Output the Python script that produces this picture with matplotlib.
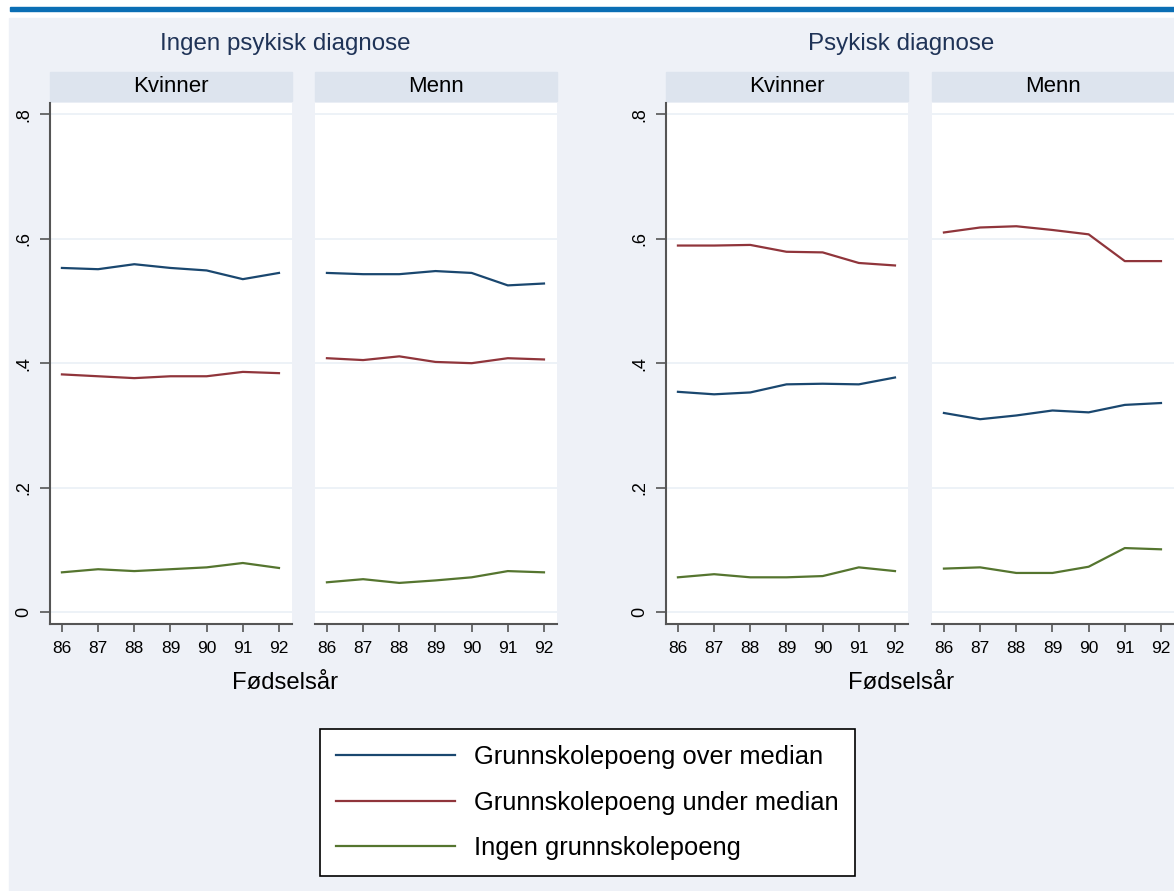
import matplotlib
matplotlib.use('Agg')
import matplotlib.pyplot as plt
from matplotlib.patches import Rectangle

plt.rcParams['font.family'] = ['Liberation Sans', 'DejaVu Sans']

years = [86, 87, 88, 89, 90, 91, 92]
groups = ["Ingen psykisk diagnose", "Psykisk diagnose"]
sexes = ["Kvinner", "Menn"]
series_names = ["Grunnskolepoeng over median", "Grunnskolepoeng under median", "Ingen grunnskolepoeng"]

# Ingen psykisk diagnose
ingen_kvinner_over = [0.553, 0.551, 0.559, 0.553, 0.549, 0.535, 0.545]
ingen_kvinner_under = [0.382, 0.379, 0.376, 0.379, 0.379, 0.386, 0.384]
ingen_kvinner_ingen = [0.064, 0.069, 0.066, 0.069, 0.072, 0.079, 0.071]
ingen_menn_over = [0.545, 0.543, 0.543, 0.548, 0.545, 0.525, 0.528]
ingen_menn_under = [0.408, 0.405, 0.411, 0.402, 0.400, 0.408, 0.406]
ingen_menn_ingen = [0.048, 0.053, 0.047, 0.051, 0.056, 0.066, 0.064]
# Psykisk diagnose
psyk_kvinner_over = [0.354, 0.350, 0.353, 0.366, 0.367, 0.366, 0.377]
psyk_kvinner_under = [0.589, 0.589, 0.590, 0.579, 0.578, 0.561, 0.557]
psyk_kvinner_ingen = [0.056, 0.061, 0.056, 0.056, 0.058, 0.072, 0.066]
psyk_menn_over = [0.320, 0.310, 0.316, 0.324, 0.321, 0.333, 0.336]
psyk_menn_under = [0.610, 0.618, 0.620, 0.614, 0.607, 0.564, 0.564]
psyk_menn_ingen = [0.070, 0.072, 0.063, 0.063, 0.073, 0.103, 0.101]

panels = [
    (ingen_kvinner_over, ingen_kvinner_under, ingen_kvinner_ingen),
    (ingen_menn_over, ingen_menn_under, ingen_menn_ingen),
    (psyk_kvinner_over, psyk_kvinner_under, psyk_kvinner_ingen),
    (psyk_menn_over, psyk_menn_under, psyk_menn_ingen),
]

colors = ['#1a476f', '#90353b', '#55752f']
bg = '#eef1f7'
strip = '#dde4ee'
W, H = 1174, 891

def box(l, t, w, h):
    return [l / W, 1 - (t + h) / H, w / W, h / H]

fig = plt.figure(figsize=(W / 100, H / 100), dpi=100, facecolor='white')
fig.add_artist(Rectangle((9 / W, 0), 1, 1 - 18 / H, transform=fig.transFigure, color=bg, zorder=-10))
fig.add_artist(Rectangle((10 / W, 1 - 11 / H), 1, 4 / H, transform=fig.transFigure, color='#0a6eb4', zorder=-10))

lefts = [50, 315, 666, 932]
lines = []
for i, (over, under, ingen) in enumerate(panels):
    ax = fig.add_axes(box(lefts[i], 103, 242, 521))
    ax.set_facecolor('white')
    ax.set_xlim(85.67, 92.36)
    ax.set_ylim(-0.019, 0.818)
    ax.set_yticks([0, 0.2, 0.4, 0.6, 0.8])
    ax.grid(axis='y', color='#eaf0f6', lw=1.2)
    ax.set_axisbelow(True)
    for s in ['top', 'right']:
        ax.spines[s].set_visible(False)
    ax.spines['bottom'].set_color('#555555')
    ax.spines['bottom'].set_linewidth(1.5)
    ax.set_xticks(years)
    ax.set_xticklabels([str(y) for y in years], fontsize=12.5)
    ax.tick_params(axis='x', length=6, width=1.2, color='#555555', pad=6)
    if i % 2 == 0:
        ax.spines['left'].set_color('#555555')
        ax.spines['left'].set_linewidth(1.5)
        ax.set_yticklabels(['0', '.2', '.4', '.6', '.8'], fontsize=13, rotation=90, va='center')
        ax.tick_params(axis='y', length=7, width=1.2, color='#555555', pad=6)
    else:
        ax.spines['left'].set_visible(False)
        ax.tick_params(axis='y', left=False, labelleft=False)
    for j, vals in enumerate([over, under, ingen]):
        l, = ax.plot(years, vals, color=colors[j], lw=1.6)
        if i == 0:
            lines.append(l)
    # panel header strip
    fig.add_artist(Rectangle((lefts[i] / W, 1 - 101 / H), 242 / W, 29 / H,
                             transform=fig.transFigure, color=strip, zorder=-5))
    fig.text((lefts[i] + 121) / W, 1 - 86 / H, sexes[i % 2], ha='center', va='center', fontsize=16)

for k, cx in enumerate([285, 901]):
    fig.text(cx / W, 1 - 44 / H, groups[k], ha='center', va='center', fontsize=17.4, color='#1f3357')
    fig.text(cx / W, 1 - 683 / H, "Fødselsår", ha='center', va='center', fontsize=17.2)

leg = fig.legend(lines, series_names, loc='upper left', bbox_to_anchor=(320 / W, 1 - 729 / H),
                 bbox_transform=fig.transFigure, borderaxespad=0, fontsize=18.4,
                 handlelength=4.67, handletextpad=0.75, labelspacing=0.85, borderpad=0.62,
                 fancybox=False, framealpha=1, edgecolor='black', facecolor='white')
leg.get_frame().set_linewidth(1.2)

plt.savefig("out.png", dpi=100)
